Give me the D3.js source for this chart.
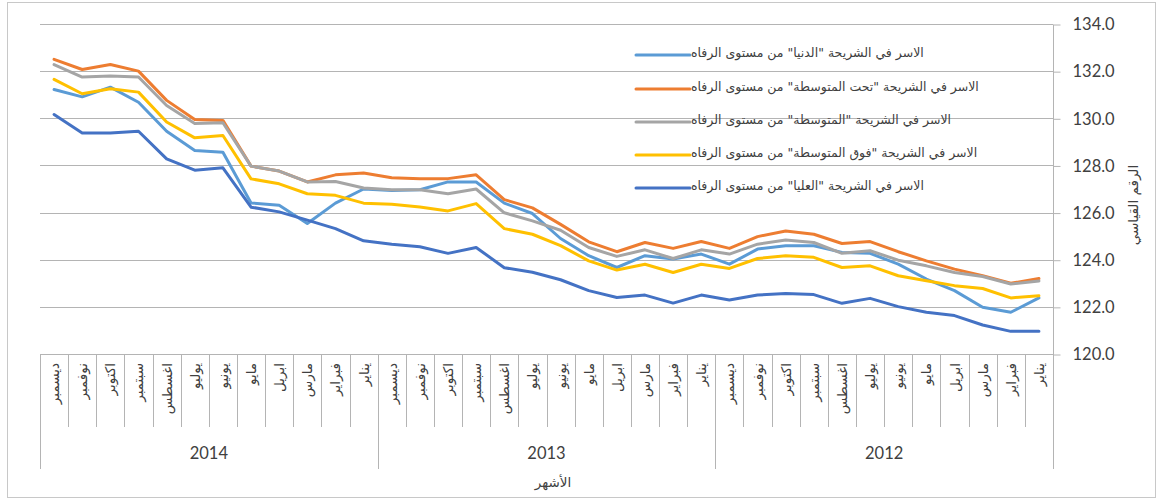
<!DOCTYPE html>
<html>
<head>
<meta charset="utf-8">
<script src="https://cdn.jsdelivr.net/npm/d3@7"></script>
<style>
  body { margin: 0; background: #fff; }
  svg { display: block; }
</style>
</head>
<body>
<svg id="chart" width="1157" height="500"></svg>
<script>
// ---- data (index 0 = January 2012, last = December 2014) ----
const years = ["2012", "2013", "2014"];
const months = ["يناير", "فبراير", "مارس", "ابريل", "مايو", "يونيو", "يوليو", "اغسطس", "سبتمبر", "اكتوبر", "نوفمبر", "ديسمبر"];
const yTicks = [120, 122, 124, 126, 128, 130, 132, 134];

const seriesNames = [
  'الاسر في الشريحة "الدنيا" من مستوى الرفاه',
  'الاسر في الشريحة "تحت المتوسطة" من مستوى الرفاه',
  'الاسر في الشريحة "المتوسطة" من مستوى الرفاه',
  'الاسر في الشريحة "فوق المتوسطة" من مستوى الرفاه',
  'الاسر في الشريحة "العليا" من مستوى الرفاه'
];
const seriesColors = ["#5B9BD5", "#ED7D31", "#A5A5A5", "#FFC000", "#4472C4"];

const lowest = [122.38, 121.77, 121.98, 122.69, 123.18, 123.81, 124.27, 124.31, 124.59, 124.59, 124.45, 123.81,
                124.24, 124.03, 124.17, 123.67, 124.17, 124.90, 125.96, 126.40, 127.30, 127.30, 126.97, 126.94,
                127.00, 126.40, 125.54, 126.31, 126.41, 128.56, 128.63, 129.45, 130.68, 131.32, 130.91, 131.22];
const belowMiddle = [123.20, 123.00, 123.32, 123.60, 123.95, 124.34, 124.77, 124.69, 125.08, 125.22, 124.98, 124.48,
                124.77, 124.48, 124.73, 124.34, 124.76, 125.50, 126.20, 126.55, 127.60, 127.44, 127.44, 127.48,
                127.68, 127.60, 127.30, 127.76, 127.97, 129.91, 129.95, 130.76, 132.00, 132.28, 132.07, 132.50];
const middle = [123.10, 122.97, 123.29, 123.46, 123.74, 123.98, 124.38, 124.27, 124.73, 124.84, 124.66, 124.24,
                124.42, 124.05, 124.42, 124.14, 124.52, 125.25, 125.65, 125.99, 127.00, 126.80, 126.97, 126.97,
                127.04, 127.32, 127.30, 127.76, 127.97, 129.81, 129.78, 130.54, 131.75, 131.79, 131.75, 132.28];
const aboveMiddle = [122.47, 122.38, 122.78, 122.90, 123.11, 123.32, 123.74, 123.67, 124.10, 124.17, 124.05, 123.63,
                123.81, 123.46, 123.81, 123.56, 123.95, 124.60, 125.08, 125.32, 126.38, 126.07, 126.24, 126.35,
                126.40, 126.73, 126.80, 127.22, 127.43, 129.27, 129.17, 129.84, 131.11, 131.25, 131.04, 131.65];
const highest = [120.96, 120.96, 121.23, 121.63, 121.77, 122.01, 122.36, 122.15, 122.52, 122.57, 122.50, 122.29,
                122.50, 122.16, 122.50, 122.40, 122.69, 123.15, 123.47, 123.66, 124.52, 124.27, 124.55, 124.66,
                124.80, 125.32, 125.68, 126.03, 126.23, 127.90, 127.80, 128.28, 129.45, 129.38, 129.38, 130.16];

const allSeries = [lowest, belowMiddle, middle, aboveMiddle, highest];

// ---- layout ----
const svg = d3.select("#chart");
const plotL = 40, plotR = 1053, plotT = 24, plotB = 354;
const gridColor = "#b4b4b4";
const arabicFont = "'DejaVu Sans', sans-serif";
const numFont = "Lato, 'Open Sans', sans-serif";

// chart border
svg.append("rect").attr("x", 7.5).attr("y", 2.5).attr("width", 1148).attr("height", 495)
  .attr("fill", "none").attr("stroke", "#c8c8c8").attr("stroke-width", 1);

const cats = [];
years.forEach((yr, yi) => months.forEach((m, mi) => cats.push({ i: yi * 12 + mi, year: yr, month: m })));

const x = d3.scaleBand().domain(cats.map(c => c.i)).range([plotR, plotL]).paddingInner(0).paddingOuter(0);
const y = d3.scaleLinear().domain([120, 134]).range([plotB, plotT]);
const cx = i => x(i) + x.bandwidth() / 2;

// gridlines
svg.append("g").selectAll("line").data(yTicks).join("line")
  .attr("x1", plotL).attr("x2", plotR)
  .attr("y1", d => Math.round(y(d)) + 0.5).attr("y2", d => Math.round(y(d)) + 0.5)
  .attr("stroke", gridColor).attr("stroke-width", 1);

// right value axis
const yAxis = d3.axisRight(y).tickValues(yTicks).tickFormat(d3.format(".1f")).tickSize(7).tickPadding(12);
const yG = svg.append("g").attr("transform", `translate(${plotR + 0.5},0.5)`).call(yAxis);
yG.select(".domain").attr("stroke", gridColor).attr("d", `M0,${plotT}V${plotB}`);
yG.selectAll(".tick line").attr("stroke", gridColor);
yG.selectAll(".tick text").attr("font-family", numFont).attr("font-size", 16.5).attr("fill", "#404040");

// y axis title
svg.append("text")
  .attr("transform", `translate(1133,205) rotate(-90)`)
  .attr("text-anchor", "middle").attr("dominant-baseline", "central")
  .attr("font-family", arabicFont).attr("font-size", 13.5).attr("fill", "#404040")
  .text("الرقم القياسي");

// category axis (multi-level)
const catAxis = svg.append("g");
const boundaries = d3.range(0, 37);
catAxis.selectAll("line.cb").data(boundaries).join("line")
  .attr("class", "cb")
  .attr("x1", d => Math.round(d === 36 ? plotL : x(d) + x.bandwidth()) + 0.5)
  .attr("x2", d => Math.round(d === 36 ? plotL : x(d) + x.bandwidth()) + 0.5)
  .attr("y1", plotB)
  .attr("y2", d => (d % 12 === 0) ? 469 : 427)
  .attr("stroke", gridColor);

catAxis.selectAll("text.month").data(cats).join("text")
  .attr("class", "month")
  .attr("transform", d => `translate(${cx(d.i)},363) rotate(-90)`)
  .attr("text-anchor", "end").attr("dominant-baseline", "central")
  .attr("font-family", arabicFont).attr("font-size", 13.5).attr("fill", "#404040")
  .text(d => d.month);

catAxis.selectAll("text.year").data(years).join("text")
  .attr("class", "year")
  .attr("x", (d, i) => (x(i * 12) + x.bandwidth() + x(i * 12 + 11)) / 2)
  .attr("y", 459)
  .attr("text-anchor", "middle")
  .attr("font-family", numFont).attr("font-size", 16.5).attr("fill", "#404040")
  .text(d => d);

svg.append("text").attr("x", 553).attr("y", 487).attr("text-anchor", "middle")
  .attr("font-family", arabicFont).attr("font-size", 13.5).attr("fill", "#404040")
  .text("الأشهر");

// lines
const line = d3.line().x((d, i) => cx(i)).y(d => y(d));
svg.append("g").selectAll("path").data(allSeries).join("path")
  .attr("d", d => line(d))
  .attr("fill", "none")
  .attr("stroke", (d, i) => seriesColors[i])
  .attr("stroke-width", 3)
  .attr("stroke-linejoin", "round").attr("stroke-linecap", "round");

// legend
const legend = svg.append("g");
const legY = [55, 89, 122, 155, 188];
seriesNames.forEach((name, i) => {
  legend.append("line").attr("x1", 636).attr("x2", 690)
    .attr("y1", legY[i]).attr("y2", legY[i])
    .attr("stroke", seriesColors[i]).attr("stroke-width", 3).attr("stroke-linecap", "round");
  legend.append("text").attr("x", 691).attr("y", legY[i] - 3)
    .attr("text-anchor", "start").attr("dominant-baseline", "central")
    .attr("font-family", arabicFont).attr("font-size", 12.5).attr("fill", "#404040")
    .text(name);
});
</script>
</body>
</html>
